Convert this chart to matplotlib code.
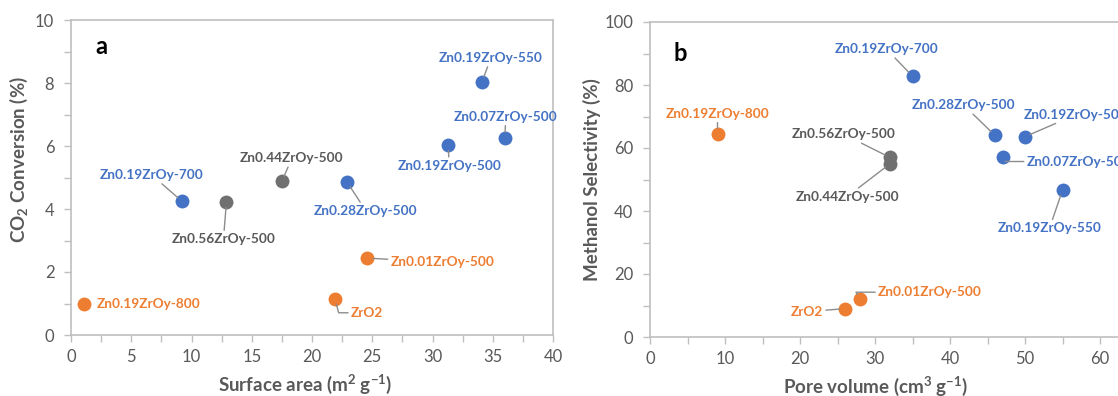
import matplotlib
matplotlib.use('Agg')
import matplotlib.pyplot as plt
from matplotlib.ticker import MultipleLocator

plt.rcParams['font.family'] = ['Lato', 'DejaVu Sans']
plt.rcParams['mathtext.default'] = 'regular'

BLUE = '#4472C4'
ORANGE = '#ED7D31'
GREY = '#707070'
GREY_TXT = '#595959'
AXIS = '#BFBFBF'

# samples and their group colour
names = ['Zn0.19ZrOy-800', 'Zn0.19ZrOy-700', 'Zn0.56ZrOy-500', 'Zn0.44ZrOy-500',
         'Zn0.28ZrOy-500', 'ZrO2', 'Zn0.01ZrOy-500', 'Zn0.19ZrOy-500',
         'Zn0.19ZrOy-550', 'Zn0.07ZrOy-500']
groups = ['o', 'b', 'g', 'g', 'b', 'o', 'o', 'b', 'b', 'b']

# panel a
surface_area = [1.1, 9.2, 12.9, 17.5, 22.9, 21.9, 24.6, 31.3, 34.1, 36.0]
co2_conversion = [1.0, 4.25, 4.22, 4.88, 4.86, 1.15, 2.44, 6.04, 8.03, 6.26]

# panel b
pore_volume = [9, 35, 32, 32, 46, 26, 28, 50, 55, 47]
meoh_selectivity = [64.5, 82.8, 57, 55, 64, 9, 12, 63.6, 46.6, 57.3]

# label offsets in pixels (dx, dy), alignment, leader connection (None = no line)
offs_a = [(12, 0, 'left', None), (-30, 26, 'center', 'arc3'), (-3, -37, 'center', 'arc3'),
          (10, 23, 'center', 'arc3'), (19, -29, 'center', 'arc3'),
          (32, -14, 'center', 'angle,angleA=0,angleB=-75,rad=0'),
          (23, -4, 'left', 'arc3'), (1, -21, 'center', 'arc3'), (9, 24, 'center', 'arc3'),
          (1, 21, 'center', 'arc3')]
offs_b = [(0, 20, 'center', 'arc3'), (-26, 27, 'center', 'arc3'), (-46, 23, 'center', 'arc3'),
          (-43, -33, 'center', 'arc3'), (-31, 30, 'center', 'arc3'), (-38, -3, 'center', 'arc3'),
          (18, 7, 'left', 'angle,angleA=0,angleB=-60,rad=0'), (51, 22, 'center', 'arc3'),
          (-13, -38, 'center', 'arc3'), (24, -5, 'left', 'angle,angleA=0,angleB=-60,rad=0')]

cmap = {'b': BLUE, 'o': ORANGE, 'g': GREY}
tmap = {'b': BLUE, 'o': ORANGE, 'g': GREY_TXT}


def style(ax, xmax, ymax, xmaj, xmin, ymaj, ymin):
    ax.set_xlim(0, xmax)
    ax.set_ylim(0, ymax)
    ax.xaxis.set_major_locator(MultipleLocator(xmaj))
    ax.xaxis.set_minor_locator(MultipleLocator(xmin))
    ax.yaxis.set_major_locator(MultipleLocator(ymaj))
    ax.yaxis.set_minor_locator(MultipleLocator(ymin))
    for s in ax.spines.values():
        s.set_color(AXIS)
        s.set_linewidth(1.2)
    ax.tick_params(which='both', direction='out', length=5, color=AXIS, width=1,
                   top=False, right=False)
    ax.tick_params(axis='y', labelsize=12, labelcolor=GREY_TXT, pad=7)
    ax.tick_params(axis='x', labelsize=12, labelcolor=GREY_TXT, pad=5)


def draw(ax, xs, ys, offs):
    for n, g, x, y, (dx, dy, ha, conn) in zip(names, groups, xs, ys, offs):
        ax.scatter(x, y, s=100, color=cmap[g], zorder=3, linewidths=0, clip_on=False)
        lead = None
        if conn:
            lead = dict(arrowstyle='-', color='#8C8C8C', lw=1, shrinkA=0, shrinkB=4,
                        connectionstyle=conn)
        ax.annotate(n, (x, y), xytext=(dx, dy), textcoords='offset pixels',
                    ha=ha, va='center', fontsize=9.8, fontweight='bold',
                    color=tmap[g], arrowprops=lead, annotation_clip=False)


fig = plt.figure(figsize=(11.18, 3.96), dpi=100)
axa = fig.add_axes([71 / 1118, 61 / 396, 482 / 1118, 315 / 396])
axb = fig.add_axes([650 / 1118, 59 / 396, 525 / 1118, 315 / 396])

style(axa, 40, 10, 5, 2.5, 2, 1)
style(axb, 70, 100, 10, 5, 20, 10)

draw(axa, surface_area, co2_conversion, offs_a)
draw(axb, pore_volume, meoh_selectivity, offs_b)

lab = dict(fontsize=13.5, fontweight='bold', color=GREY_TXT)
axa.set_xlabel('Surface area (m$^2$ g$^{-1}$)', **lab)
axa.set_ylabel('CO$_2$ Conversion (%)', **lab)
axb.set_xlabel('Pore volume (cm$^3$ g$^{-1}$)', **lab)
axb.set_ylabel('Methanol Selectivity (%)', **lab)
axa.xaxis.set_label_coords(0.486, -0.12)
axa.yaxis.set_label_coords(-0.085, 0.556)
axb.xaxis.set_label_coords(0.43, -0.12)
axb.yaxis.set_label_coords(-0.093, 0.5)

axa.text(0.062, 0.915, 'a', transform=axa.transAxes, fontsize=17, fontweight='bold',
         ha='center', va='center')
axb.text(0.057, 0.9, 'b', transform=axb.transAxes, fontsize=17, fontweight='bold',
         ha='center', va='center')

fig.savefig('out.png', dpi=100)
